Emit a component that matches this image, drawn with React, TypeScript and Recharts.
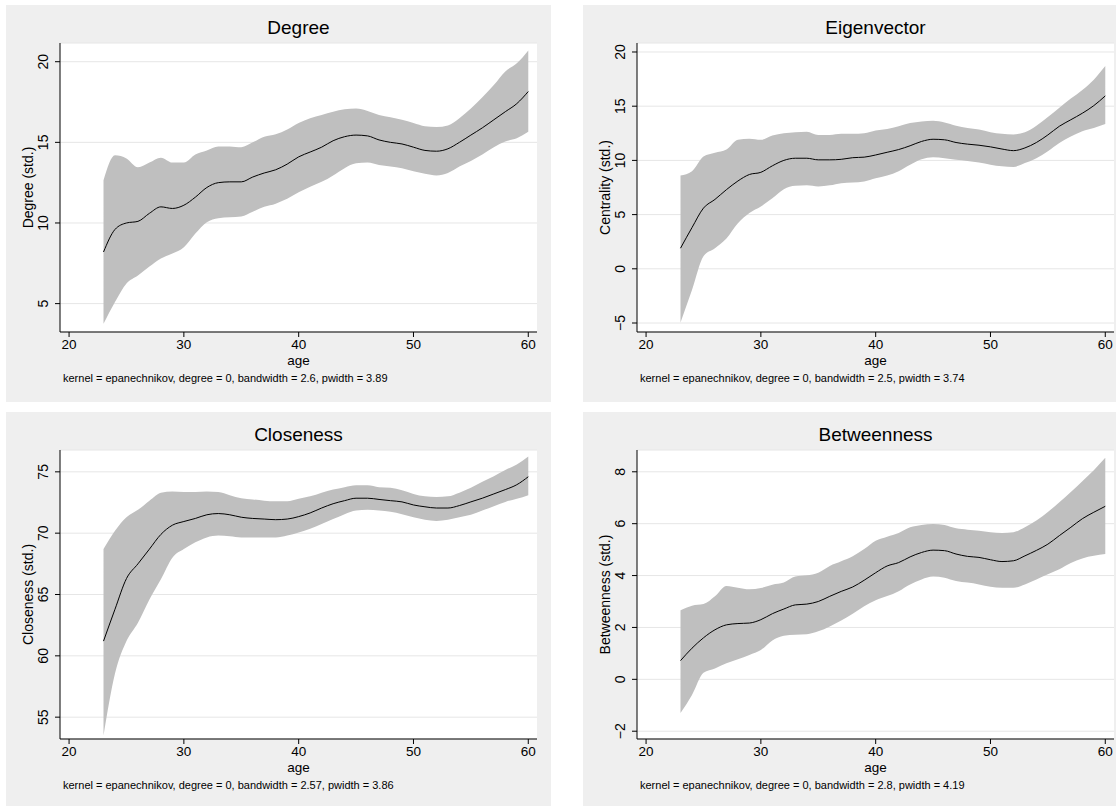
import React from 'react';
import { ComposedChart, Area, Line, XAxis, YAxis, CartesianGrid } from 'recharts';

// evaluation grid (age, years)
const ages = [
  23, 24, 25, 26, 27, 28, 29, 30, 31, 32,
  33, 34, 35, 36, 37, 38, 39, 40, 41, 42,
  43, 44, 45, 46, 47, 48, 49, 50, 51, 52,
  53, 54, 55, 56, 57, 58, 59, 60,
];
const ageTicks = [20, 30, 40, 50, 60];

const degreeFit = [
  8.2, 9.6, 10.0, 10.1, 10.6, 11.0, 10.9, 11.1, 11.6, 12.2,
  12.5, 12.55, 12.55, 12.85, 13.1, 13.3, 13.65, 14.1, 14.4, 14.7,
  15.1, 15.35, 15.45, 15.4, 15.15, 15.0, 14.9, 14.7, 14.5, 14.45,
  14.6, 15.0, 15.45, 15.9, 16.4, 16.9, 17.4, 18.15,
];
const degreeHi = [
  12.65, 14.2, 14.0, 13.45, 13.75, 14.05, 13.75, 13.75, 14.25, 14.5,
  14.75, 14.75, 14.7, 15.0, 15.35, 15.5, 15.8, 16.2, 16.5, 16.7,
  16.9, 17.05, 17.1, 16.95, 16.7, 16.55, 16.4, 16.2, 16.0, 15.95,
  16.05, 16.5, 17.1, 17.8, 18.55, 19.4, 19.9, 20.7,
];
const degreeLo = [
  3.75, 5.1, 6.25, 6.75, 7.3, 7.8, 8.1, 8.5, 9.35, 10.05,
  10.3, 10.35, 10.4, 10.7, 11.0, 11.2, 11.5, 11.9, 12.25, 12.55,
  12.95, 13.4, 13.7, 13.75, 13.6, 13.5, 13.4, 13.2, 13.05, 12.95,
  13.1, 13.5, 13.85, 14.25, 14.7, 15.05, 15.25, 15.65,
];
const degreeTicks = [5, 10, 15, 20];

const eigenFit = [
  1.9, 3.8, 5.6, 6.4, 7.3, 8.1, 8.7, 8.9, 9.5, 10.0,
  10.2, 10.2, 10.05, 10.05, 10.1, 10.25, 10.3, 10.5, 10.75, 11.0,
  11.35, 11.75, 11.95, 11.9, 11.65, 11.5, 11.4, 11.25, 11.05, 10.9,
  11.15, 11.65, 12.35, 13.15, 13.75, 14.35, 15.05, 15.95,
];
const eigenHi = [
  8.6, 9.0, 10.35, 10.7, 11.0, 11.9, 12.0, 11.9, 12.3, 12.5,
  12.6, 12.65, 12.35, 12.35, 12.45, 12.45, 12.5, 12.75, 12.9, 13.15,
  13.45, 13.6, 13.65, 13.5, 13.2, 13.0, 12.85, 12.6, 12.45, 12.4,
  12.6, 13.2, 14.0, 14.85, 15.7, 16.5, 17.45, 18.7,
];
const eigenLo = [
  -4.95, -1.95, 1.15, 1.9, 2.8, 4.2, 5.15, 5.75, 6.5, 7.35,
  7.65, 7.7, 7.6, 7.7, 7.9, 7.95, 8.05, 8.35, 8.6, 9.0,
  9.6, 10.1, 10.3, 10.2, 10.05, 9.95, 9.8, 9.6, 9.45, 9.4,
  9.75, 10.2, 10.85, 11.6, 12.2, 12.7, 13.0, 13.35,
];
const eigenTicks = [-5, 0, 5, 10, 15, 20];

const closeFit = [
  61.2, 63.8, 66.3, 67.5, 68.7, 69.9, 70.65, 70.95, 71.2, 71.5,
  71.6, 71.5, 71.3, 71.2, 71.15, 71.1, 71.15, 71.35, 71.65, 72.05,
  72.4, 72.65, 72.85, 72.85, 72.75, 72.65, 72.55, 72.3, 72.15, 72.05,
  72.05, 72.25, 72.55, 72.85, 73.2, 73.55, 73.95, 74.6,
];
const closeHi = [
  68.7, 70.2, 71.3, 71.9, 72.65, 73.3, 73.4, 73.35, 73.35, 73.4,
  73.35, 73.1, 72.85, 72.75, 72.65, 72.6, 72.6, 72.8, 73.0, 73.3,
  73.55, 73.75, 73.9, 73.9, 73.75, 73.7, 73.5, 73.2, 73.0, 72.95,
  73.0, 73.3, 73.7, 74.2, 74.65, 75.15, 75.6, 76.25,
];
const closeLo = [
  53.5, 58.55, 61.2, 62.7, 64.6, 66.25, 68.0, 68.7, 69.25, 69.65,
  69.8, 69.75, 69.65, 69.65, 69.65, 69.65, 69.8, 70.05, 70.35, 70.75,
  71.15, 71.55, 71.85, 71.9, 71.85, 71.75, 71.55, 71.3, 71.1, 71.0,
  71.1, 71.3, 71.5, 71.85, 72.2, 72.55, 72.8, 73.1,
];
const closeTicks = [55, 60, 65, 70, 75];

const betwFit = [
  0.72, 1.2, 1.6, 1.91, 2.1, 2.15, 2.17, 2.3, 2.53, 2.71,
  2.87, 2.9, 3.0, 3.2, 3.39, 3.56, 3.82, 4.11, 4.37, 4.5,
  4.72, 4.89, 4.98, 4.96, 4.83, 4.74, 4.7, 4.61, 4.54, 4.57,
  4.76, 4.97, 5.21, 5.54, 5.86, 6.19, 6.44, 6.67,
];
const betwHi = [
  2.66, 2.84, 2.9, 3.2, 3.6, 3.53, 3.47, 3.52, 3.65, 3.73,
  3.96, 4.01, 4.11, 4.37, 4.55, 4.74, 5.02, 5.34, 5.5, 5.64,
  5.86, 5.95, 5.99, 5.95, 5.82, 5.77, 5.73, 5.67, 5.64, 5.67,
  5.86, 6.12, 6.45, 6.83, 7.22, 7.64, 8.06, 8.54,
];
const betwLo = [
  -1.3, -0.6, 0.25, 0.42, 0.62, 0.77, 0.94, 1.13, 1.5, 1.68,
  1.72, 1.74, 1.85, 2.04, 2.27, 2.53, 2.82, 3.05, 3.21, 3.4,
  3.66, 3.85, 3.96, 3.92, 3.79, 3.73, 3.66, 3.57, 3.53, 3.53,
  3.66, 3.85, 4.05, 4.24, 4.48, 4.66, 4.76, 4.83,
];
const betwTicks = [-2, 0, 2, 4, 6, 8];

const FONT = '"Liberation Sans", Arial, Helvetica, sans-serif';
const W = 545;
const H = 397;
const PLOT_L = 54;
const PLOT_R = 531;
const PLOT_T = 38;
const PLOT_B = 327;

const fmt = (v: number) => (v < 0 ? '\u2212' + Math.abs(v) : String(v));

function build(fit: number[], lo: number[], hi: number[]) {
  return ages.map((a, i) => ({ age: a, fit: fit[i], band: [lo[i], hi[i]] }));
}

const YTick = (props: any) => {
  const { x, y, payload } = props;
  return (
    <text x={x} y={y} transform={`rotate(-90 ${x} ${y})`} textAnchor="middle" fontSize={14} fontFamily={FONT} fill="#000">
      {fmt(payload.value)}
    </text>
  );
};

const XTick = (props: any) => {
  const { x, y, payload } = props;
  return (
    <text x={x} y={y} textAnchor="middle" fontSize={13.5} fontFamily={FONT} fill="#000">
      {payload.value}
    </text>
  );
};

type PanelProps = {
  left: number;
  top: number;
  title: string;
  ytitle: string;
  note: string;
  data: any[];
  yDomain: [number, number];
  yTicks: number[];
};

function Panel({ left, top, title, ytitle, note, data, yDomain, yTicks }: PanelProps) {
  const cx = (PLOT_L + PLOT_R) / 2;
  const cy = (PLOT_T + PLOT_B) / 2;
  return (
    <div style={{ position: 'absolute', left, top, width: W, height: H, background: '#efefef' }}>
      <ComposedChart width={W} height={H} data={data} margin={{ top: PLOT_T, right: W - PLOT_R, left: 0, bottom: 0 }}>
        <CartesianGrid vertical={false} stroke="#e6e6e6" fill="#ffffff" />
        <XAxis
          dataKey="age"
          type="number"
          domain={[19.21, 60.76]}
          allowDataOverflow
          ticks={ageTicks}
          height={H - PLOT_B}
          stroke="#000"
          tickSize={5}
          tickMargin={12}
          tick={(p: any) => <XTick {...p} />}
        />
        <YAxis
          type="number"
          domain={yDomain}
          allowDataOverflow
          ticks={yTicks}
          width={PLOT_L}
          stroke="#000"
          tickSize={5}
          tickMargin={7}
          tick={(p: any) => <YTick {...p} />}
        />
        <Area
          dataKey="band"
          type="monotone"
          stroke="none"
          fill="#bfbfbf"
          fillOpacity={1}
          activeDot={false}
          isAnimationActive={false}
        />
        <Line dataKey="fit" type="monotone" stroke="#000" strokeWidth={1} dot={false} activeDot={false} isAnimationActive={false} />
      </ComposedChart>
      <svg width={W} height={H} style={{ position: 'absolute', left: 0, top: 0, pointerEvents: 'none' }} fontFamily={FONT}>
        <text x={cx} y={29} textAnchor="middle" fontSize={19} fill="#000">{title}</text>
        <text x={27} y={cy} transform={`rotate(-90 27 ${cy})`} textAnchor="middle" fontSize={14} fill="#000">{ytitle}</text>
        <text x={cx} y={360} textAnchor="middle" fontSize={13.5} fill="#000">age</text>
        <text x={57} y={377} fontSize={11} fill="#000">{note}</text>
      </svg>
    </div>
  );
}

export default function App() {
  return (
    <div style={{ position: 'absolute', left: 0, top: 0, width: 1116, height: 806, overflow: 'hidden', background: '#fff' }}>
      <Panel
        left={6}
        top={5}
        title="Degree"
        ytitle="Degree (std.)"
        note="kernel = epanechnikov, degree = 0, bandwidth = 2.6, pwidth = 3.89"
        data={build(degreeFit, degreeLo, degreeHi)}
        yDomain={[3.24, 21.16]}
        yTicks={degreeTicks}
      />
      <Panel
        left={583}
        top={5}
        title="Eigenvector"
        ytitle="Centrality (std.)"
        note="kernel = epanechnikov, degree = 0, bandwidth = 2.5, pwidth = 3.74"
        data={build(eigenFit, eigenLo, eigenHi)}
        yDomain={[-5.83, 20.83]}
        yTicks={eigenTicks}
      />
      <Panel
        left={6}
        top={412}
        title="Closeness"
        ytitle="Closeness (std.)"
        note="kernel = epanechnikov, degree = 0, bandwidth = 2.57, pwidth = 3.86"
        data={build(closeFit, closeLo, closeHi)}
        yDomain={[53.22, 76.78]}
        yTicks={closeTicks}
      />
      <Panel
        left={583}
        top={412}
        title="Betweenness"
        ytitle="Betweenness (std.)"
        note="kernel = epanechnikov, degree = 0, bandwidth = 2.8, pwidth = 4.19"
        data={build(betwFit, betwLo, betwHi)}
        yDomain={[-2.3, 8.84]}
        yTicks={betwTicks}
      />
    </div>
  );
}
